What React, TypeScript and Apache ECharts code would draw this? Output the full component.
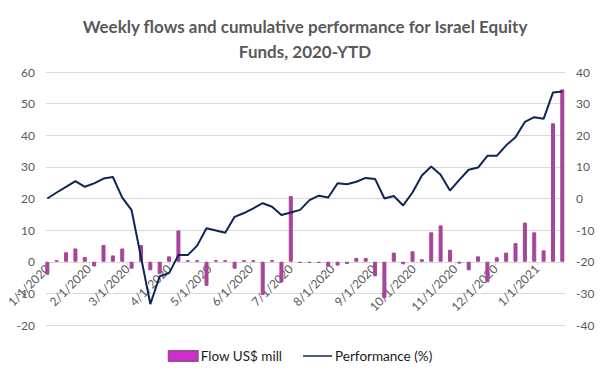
import React, { useEffect, useRef } from "react";
import * as echarts from "echarts";

const titleText = "Weekly flows and cumulative performance for Israel Equity\nFunds, 2020-YTD";
const startDate = "2020-01-01";
const monthLabels = [
  "1/1/2020", "2/1/2020", "3/1/2020", "4/1/2020", "5/1/2020", "6/1/2020", "7/1/2020",
  "8/1/2020", "9/1/2020", "10/1/2020", "11/1/2020", "12/1/2020", "1/1/2021",
];
const flows = [
  -4.1, 0.5, 3.0, 4.2, 1.5, -1.5, 5.3, 2.0, 4.2, -2.2,
  5.3, -2.7, -3.8, 1.7, 9.9, 0.5, 0.5, -7.6, 0.5, 0.5,
  -2.2, 0.5, 0.5, -10.5, 0.5, -6.5, 20.8, -0.4, -0.4, -0.4,
  -1.5, -1.2, -0.7, 1.2, 1.2, -4.6, -11.5, 2.9, -0.8, 3.3,
  0.8, 9.3, 11.5, 3.8, -0.6, -2.7, 1.7, -6.5, 1.4, 2.9,
  5.9, 12.4, 9.3, 3.6, 43.8, 54.5,
];
const performance = [
  0, 1.9, 3.7, 5.5, 3.7, 4.8, 6.3, 6.8, 0.3, -3.7,
  -18.5, -33.4, -24.6, -23.6, -17.9, -17.9, -14.9, -9.4, -10.1, -10.8,
  -5.8, -4.6, -3.1, -1.5, -2.6, -5.2, -4.4, -3.6, -0.5, 0.9,
  0.3, 4.8, 4.5, 5.3, 6.5, 6.2, 0, 0.8, -2.2, 1.9,
  7.3, 10.1, 7.5, 2.5, 5.9, 9.1, 9.8, 13.5, 13.5, 16.8,
  19.4, 24.2, 25.7, 25.2, 33.5, 33.8,
];

const DAY = 86400000;
const LEFT_MIN = -20;
const LEFT_MAX = 60;
const GRID_TOP = 72;
const GRID_BOTTOM = 49;
const HEIGHT = 374;

function utc(y: number, m: number, d: number) {
  return Date.UTC(y, m - 1, d);
}
function parseMDY(s: string): number {
  const [m, d, y] = s.split("/").map(Number);
  return utc(y, m, d);
}
function parseISO(s: string): number {
  const [y, m, d] = s.split("-").map(Number);
  return utc(y, m, d);
}

export default function App() {
  const ref = useRef<HTMLDivElement>(null);
  useEffect(() => {
    if (!ref.current) return;
    document.body.style.margin = "0";
    const chart = echarts.init(ref.current, undefined, { renderer: "svg" });
    const t0 = parseISO(startDate);
    // x positions in days since the start date
    const days = flows.map((_, i) => i * 7);
    const tickDays = monthLabels.map((s) => Math.round((parseMDY(s) - t0) / DAY));
    const labelOf: Record<number, string> = {};
    tickDays.forEach((d, i) => (labelOf[d] = monthLabels[i]));
    // place the date axis on the zero line of the left axis
    const plotH = HEIGHT - GRID_TOP - GRID_BOTTOM;
    const zeroOffset = (plotH * (0 - LEFT_MIN)) / (LEFT_MAX - LEFT_MIN);
    chart.setOption({
      animation: false,
      textStyle: { fontFamily: "Lato" },
      title: {
        text: titleText,
        left: 300,
        top: 9,
        textAlign: "center",
        textStyle: {
          fontFamily: "Lato",
          fontWeight: "bold",
          fontSize: 17,
          lineHeight: 25,
          color: "#595959",
        },
      },
      legend: {
        top: 344,
        left: "center",
        itemGap: 20,
        itemWidth: 29,
        itemHeight: 10,
        textStyle: { fontSize: 13.5, color: "#1a1a1a", fontFamily: "Lato", padding: [0, 0, 0, -2] },
        data: [
          { name: "Flow US$ mill", icon: "rect", itemStyle: { color: "#cf2fcf" } },
          {
            name: "Performance (%)",
            itemStyle: { opacity: 0, color: "rgba(0,0,0,0)", borderWidth: 0 },
            lineStyle: { width: 1.5, color: "#0d2557" },
          },
        ],
      },
      grid: { left: 46, right: 35, top: GRID_TOP, bottom: GRID_BOTTOM, containLabel: false },
      xAxis: {
        type: "value",
        min: -1,
        max: 387,
        position: "bottom",
        offset: -zeroOffset,
        axisLine: { onZero: false, lineStyle: { color: "#d9d9d9" } },
        axisTick: { show: true, length: 4, customValues: tickDays, lineStyle: { color: "#d9d9d9" } },
        splitLine: { show: false },
        axisLabel: {
          customValues: tickDays,
          rotate: 45,
          margin: 5,
          fontSize: 12,
          color: "#595959",
          formatter: (v: number) => labelOf[Math.round(v)] ?? "",
        },
      },
      yAxis: [
        {
          type: "value",
          min: LEFT_MIN,
          max: LEFT_MAX,
          interval: 10,
          axisLine: { show: false, onZero: false },
          axisTick: { show: false },
          splitLine: { lineStyle: { color: "#d9d9d9" } },
          axisLabel: { fontSize: 12, color: "#595959", margin: 11 },
        },
        {
          type: "value",
          min: -40,
          max: 40,
          interval: 10,
          axisLine: { show: false, onZero: false },
          axisTick: { show: false },
          splitLine: { show: false },
          axisLabel: { fontSize: 12, color: "#595959", margin: 11 },
        },
      ],
      series: [
        {
          name: "Flow US$ mill",
          type: "bar",
          yAxisIndex: 0,
          barWidth: 4,
          itemStyle: { color: "#a6449a", borderColor: "#a6449a", borderWidth: 1 },
          data: days.map((d, i) => [d, flows[i]]),
        },
        {
          name: "Performance (%)",
          type: "line",
          yAxisIndex: 1,
          symbol: "none",
          lineStyle: { color: "#0d2557", width: 2 },
          itemStyle: { color: "#0d2557" },
          data: days.map((d, i) => [d, performance[i]]),
        },
      ],
    });
    return () => chart.dispose();
  }, []);
  return <div ref={ref} style={{ width: 600, height: 374 }} />;
}
